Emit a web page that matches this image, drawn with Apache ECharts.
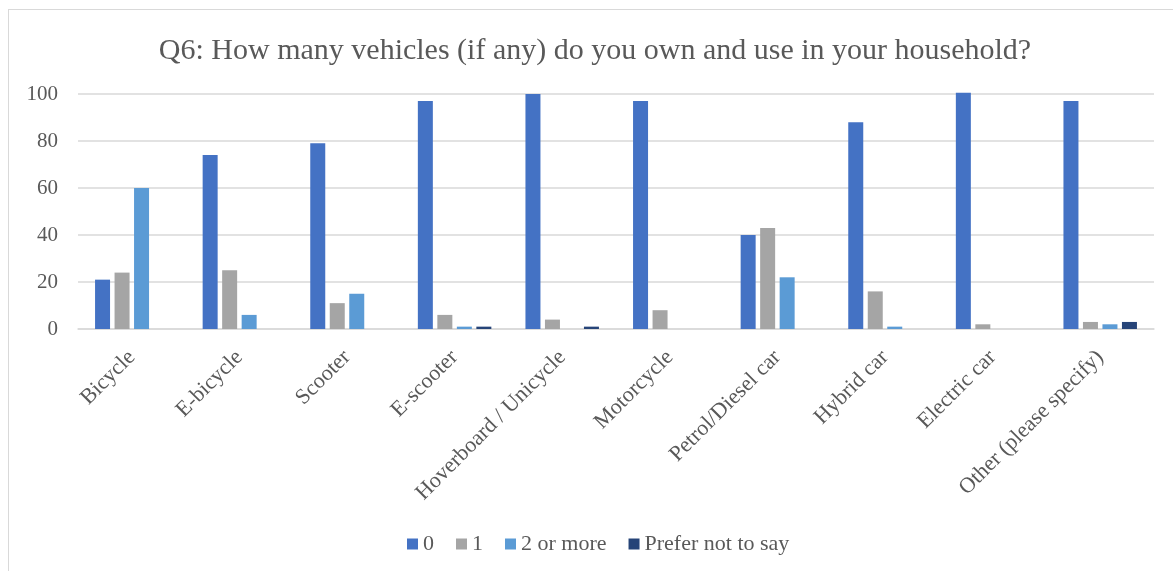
<!DOCTYPE html>
<html>
<head>
<meta charset="utf-8">
<script src="https://cdn.jsdelivr.net/npm/echarts@6/dist/echarts.min.js"></script>
<style>
  html, body { margin: 0; padding: 0; background: #fff; }
  #frame { position: absolute; left: 8px; top: 9px; width: 1200px; height: 600px; border: 1px solid #d9d9d9; box-sizing: border-box; }
  #chart { position: absolute; left: 0; top: 0; width: 1173px; height: 571px; }
</style>
</head>
<body>
<div id="frame"></div>
<div id="chart"></div>
<script>
const titleText = 'Q6: How many vehicles (if any) do you own and use in your household?';
const categories = ['Bicycle', 'E-bicycle', 'Scooter', 'E-scooter', 'Hoverboard / Unicycle', 'Motorcycle', 'Petrol/Diesel car', 'Hybrid car', 'Electric car', 'Other (please specify)'];
const seriesNames = ['0', '1', '2 or more', 'Prefer not to say'];
const values0 = [21, 74, 79, 97, 100, 97, 40, 88, 100.5, 97];
const values1 = [24, 25, 11, 6, 4, 8, 43, 16, 2, 3];
const values2 = [60, 6, 15, 1, 0, 0, 22, 1, 0, 2];
const valuesPrefer = [0, 0, 0, 1, 1, 0, 0, 0, 0, 3];
const yTicks = [0, 20, 40, 60, 80, 100];

const colors = ['#4472C4', '#A5A5A5', '#5B9BD5', '#264478'];
const font = "'Liberation Serif', 'Times New Roman', serif";
const textColor = '#595959';

const chart = echarts.init(document.getElementById('chart'), null, { renderer: 'canvas' });
const allValues = [values0, values1, values2, valuesPrefer];
chart.setOption({
  animation: false,
  color: colors,
  title: {
    text: titleText,
    left: 590,
    textAlign: 'center',
    top: 31,
    textStyle: { fontFamily: font, fontSize: 30, fontWeight: 'normal', color: textColor }
  },
  legend: {
    bottom: 11,
    left: 402,
    icon: 'rect',
    itemWidth: 11,
    itemHeight: 11,
    itemGap: 22,
    itemStyle: { borderWidth: 0 },
    textStyle: { fontFamily: font, fontSize: 22, color: textColor },
    data: seriesNames
  },
  grid: { left: 78, right: 19, top: 94, bottom: 242, containLabel: false },
  xAxis: {
    type: 'category',
    data: categories,
    axisLine: { lineStyle: { color: '#d9d9d9', width: 1.5 } },
    axisTick: { show: false },
    axisLabel: { rotate: 45, margin: 25, interval: 0, fontFamily: font, fontSize: 22, color: textColor }
  },
  yAxis: {
    type: 'value',
    min: yTicks[0],
    max: yTicks[yTicks.length - 1],
    interval: 20,
    axisLine: { show: false },
    axisTick: { show: false },
    splitLine: { lineStyle: { color: '#d9d9d9', width: 1.5 } },
    axisLabel: { margin: 20, fontFamily: font, fontSize: 21, color: textColor }
  },
  series: seriesNames.map((name, i) => ({
    name: name,
    type: 'bar',
    data: allValues[i],
    barWidth: 15,
    barGap: '30%',
    clip: false,
    itemStyle: { color: colors[i] }
  }))
});
</script>
</body>
</html>
